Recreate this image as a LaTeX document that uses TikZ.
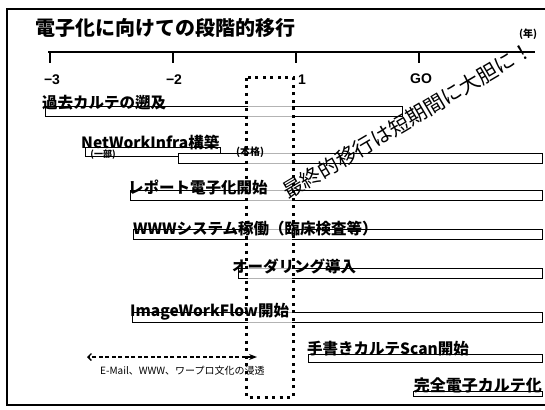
\documentclass[tikz,border=0pt]{standalone}
\usepackage{fontspec}
\setmainfont{Noto Sans CJK JP}
\newfontfamily\latn{Liberation Sans}
\usetikzlibrary{arrows.meta,positioning}

\begin{document}
\begin{tikzpicture}[x=1pt,y=-1pt,
    bar/.style={draw=black,fill=white,line width=0.9pt},
    lbl/.style={anchor=base west,inner sep=0pt,
                font=\fontsize{15.5}{16}\selectfont\bfseries},
    yr/.style={inner sep=0pt,font=\latn\fontsize{14}{14}\selectfont\bfseries},
    note/.style={inner sep=0pt,font=\fontsize{9}{9}\selectfont\bfseries}]
    \useasboundingbox (0,0) rectangle (545,409);
    % frame and time axis
    \draw[line width=1.8pt] (545,9) -- (7,9) -- (7,405) -- (545,405);
    \node[anchor=base west,inner sep=0pt,font=\fontsize{20}{20}\selectfont\bfseries]
      (title) at (35,36) {電子化に向けての段階的移行};
    \draw[line width=1.4pt] (48,52) -- (535,52);
    \foreach \x in {50,173,296,419}
      \draw[line width=2.2pt] (\x,52) -- (\x,63);
    \node[yr] (tm3) at (52,80) {−3};
    \node[yr] (tm2) at (174,80) {−2};
    \node[yr] (tone) at (302,80) {1};
    \node[yr] (tgo) at (421,79) {GO};
    \node[note,font=\fontsize{10}{10}\selectfont\bfseries] (unit) at (528,34) {(年)};
    % bars
    \draw[bar] (45,106) rectangle (402,116);
    \draw[bar] (85,147) rectangle (220,156);
    \draw[bar] (178,153) rectangle (542,163);
    \draw[bar] (130,190) rectangle (542,200);
    \draw[bar] (133,229) rectangle (542,239);
    \draw[bar] (238,268) rectangle (542,278);
    \draw[bar] (132,312) rectangle (542,322);
    \draw[bar] (308,354) rectangle (542,362);
    \draw[bar] (413,391) rectangle (542,396);
    \fill[white,opacity=0.7] (247.5,79.5) rectangle (291.5,395.5);
    % labels
    \node[lbl] (past) at (42,108) {過去カルテの遡及};
    \node[lbl] (netinfra) at (81,148) {NetWorkInfra構築};
    \node[note] (partial) at (103,155) {(一部)};
    \node[note,font=\fontsize{10}{10}\selectfont\bfseries] (full) at (250,152) {(本格)};
    \node[lbl] (report) at (128,193) {レポート電子化開始};
    \node[lbl] (www) at (133,234) {WWWシステム稼働（臨床検査等）};
    \node[lbl] (order) at (232,272) {オーダリング導入};
    \node[lbl] (image) at (130,316) {ImageWorkFlow開始};
    \node[lbl] (scan) at (307,354) {手書きカルテScan開始};
    \node[lbl,anchor=base east,font=\fontsize{16}{16}\selectfont\bfseries]
      (ehr) at (542,391) {完全電子カルテ化};
    \node[rotate=30.6,anchor=base west,inner sep=0pt,font=\fontsize{20.5}{20}\selectfont]
      (motto) at (288,200) {最終的移行は短期間に大胆に！};
    % transition window
    \draw[line width=3pt,dash pattern=on 3pt off 4.5pt] (246,78) rectangle (293,397);
    \coordinate (spreadW) at (87,357);
    \coordinate (spreadE) at (257,357);
    \draw[line width=1.3pt,dash pattern=on 4pt off 2.5pt,
          {Stealth[length=8pt,width=6pt]}-{Straight Barb[length=3.5pt]}] (spreadE) -- (spreadW);
    \node[anchor=west,inner sep=0pt,font=\fontsize{10}{10}\selectfont]
      (culture) at (100,371) {E-Mail、WWW、ワープロ文化の浸透};
  \end{tikzpicture}
\end{document}
